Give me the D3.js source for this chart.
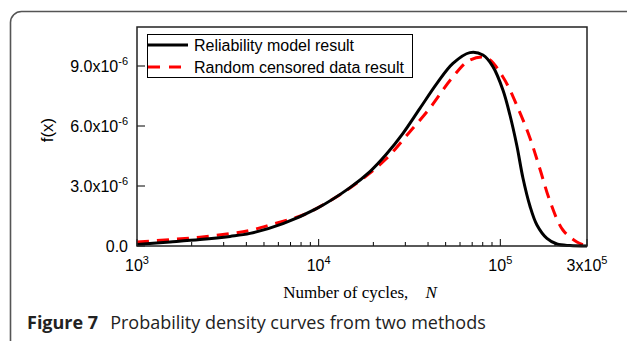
<!DOCTYPE html>
<html>
<head>
<meta charset="utf-8">
<script src="https://cdn.jsdelivr.net/npm/d3@7"></script>
<style>
  html, body { margin: 0; padding: 0; background: #fff; }
  svg { display: block; }
</style>
</head>
<body>
<div id="chart"></div>
<script>
// cycles N and density f(x) in units of 1e-6
const modelN = [1000, 1519, 2222, 3250, 4187, 6361, 9786, 14870, 19160, 23760, 29110, 36100, 44780, 54840, 68020, 80230, 91060, 103350, 112950, 123420, 133190, 145550, 159050, 180510, 204880, 241600, 300000];
const modelF = [0.08, 0.20, 0.32, 0.48, 0.63, 1.12, 1.88, 2.92, 3.72, 4.62, 5.63, 6.88, 8.13, 9.13, 9.67, 9.55, 8.97, 7.80, 6.55, 5.00, 3.40, 2.00, 1.05, 0.38, 0.10, 0.02, 0.0];

const censoredN = [1000, 1519, 2222, 3250, 4187, 5532, 8197, 11990, 17090, 23470, 31010, 40990, 54160, 68020, 84390, 103350, 125000, 145550, 165200, 187500, 221000, 264000, 300000];
const censoredF = [0.20, 0.32, 0.44, 0.62, 0.78, 1.08, 1.55, 2.35, 3.30, 4.35, 5.60, 6.90, 8.40, 9.30, 9.40, 8.45, 6.90, 5.40, 3.85, 2.25, 0.80, 0.20, 0.0];

const xTicks = [1e3, 1e4, 1e5, 3e5];
const xTickBase = ['10', '10', '10', '3x10'];
const xTickExp = ['3', '4', '5', '5'];
const yTicks = [0, 3, 6, 9];
const yTickBase = ['0.0', '3.0x10', '6.0x10', '9.0x10'];
const yTickExp = ['', '-6', '-6', '-6'];

const seriesNames = ['Reliability model result', 'Random censored data result'];

const W = 627, H = 341;
const margin = { top: 27, right: 40, bottom: 95, left: 137 };
const innerW = 587 - margin.left;
const innerH = 246 - margin.top;

const svg = d3.select('#chart').append('svg')
  .attr('width', W)
  .attr('height', H);

// outer figure frame
svg.append('rect')
  .attr('x', 10.5).attr('y', 11.5)
  .attr('width', 640).attr('height', 360)
  .attr('rx', 11).attr('ry', 11)
  .attr('fill', 'none')
  .attr('stroke', '#555')
  .attr('stroke-width', 1.6);

const g = svg.append('g')
  .attr('transform', `translate(${margin.left},${margin.top})`);

const x = d3.scaleLog().domain([1e3, 3e5]).range([0, innerW]);
const y = d3.scaleLinear().domain([0, 10.95]).range([innerH, 0]);

// minor x ticks (inside)
const minor = [];
for (let d = 1e3; d < 3e5; d *= 10) {
  for (let k = 2; k <= 9; k++) if (k * d < 3e5) minor.push(k * d);
}
g.selectAll('.minor').data(minor).enter().append('line')
  .attr('x1', d => x(d)).attr('x2', d => x(d))
  .attr('y1', innerH).attr('y2', innerH - 4)
  .attr('stroke', '#000').attr('stroke-width', 1);

g.selectAll('.xmajor').data(xTicks).enter().append('line')
  .attr('x1', d => x(d)).attr('x2', d => x(d))
  .attr('y1', innerH).attr('y2', innerH - 7)
  .attr('stroke', '#000').attr('stroke-width', 1);

g.selectAll('.ymajor').data(yTicks).enter().append('line')
  .attr('x1', 0).attr('x2', 8)
  .attr('y1', d => y(d)).attr('y2', d => y(d))
  .attr('stroke', '#000').attr('stroke-width', 1);

// tick labels
const xl = g.selectAll('.xlab').data(xTicks).enter().append('text')
  .attr('x', d => x(d))
  .attr('y', innerH + 25)
  .attr('text-anchor', 'middle')
  .attr('font-family', 'Liberation Sans, Arial, sans-serif')
  .attr('font-size', 16)
  .attr('fill', '#000');
xl.append('tspan').text((d, i) => xTickBase[i]);
xl.append('tspan').attr('dy', -7).attr('font-size', 11).text((d, i) => xTickExp[i]);

const yl = g.selectAll('.ylab').data(yTicks).enter().append('text')
  .attr('x', -9)
  .attr('y', d => y(d) + 6)
  .attr('text-anchor', 'end')
  .attr('font-family', 'Liberation Sans, Arial, sans-serif')
  .attr('font-size', 16)
  .attr('fill', '#000');
yl.append('tspan').text((d, i) => yTickBase[i]);
yl.append('tspan').attr('dy', -7).attr('font-size', 11).text((d, i) => yTickExp[i]);

// curves
const line = d3.line()
  .x(d => x(d[0]))
  .y(d => Math.min(y(d[1]), innerH))
  .curve(d3.curveCatmullRom.alpha(0.5));

g.append('path')
  .datum(censoredN.map((n, i) => [n, censoredF[i]]))
  .attr('fill', 'none')
  .attr('stroke', '#ff0000')
  .attr('stroke-width', 3)
  .attr('stroke-dasharray', '12,8')
  .attr('d', line);

g.append('path')
  .datum(modelN.map((n, i) => [n, modelF[i]]))
  .attr('fill', 'none')
  .attr('stroke', '#000')
  .attr('stroke-width', 3)
  .attr('d', line);

// plot box
g.append('rect')
  .attr('x', 0).attr('y', 0)
  .attr('width', innerW).attr('height', innerH)
  .attr('fill', 'none')
  .attr('stroke', '#222')
  .attr('stroke-width', 1.5);

// legend
const lg = svg.append('g');
lg.append('rect')
  .attr('x', 147.5).attr('y', 34.5)
  .attr('width', 265).attr('height', 43)
  .attr('fill', '#fff')
  .attr('stroke', '#000')
  .attr('stroke-width', 1);
lg.append('line')
  .attr('x1', 148).attr('x2', 188).attr('y1', 45).attr('y2', 45)
  .attr('stroke', '#000').attr('stroke-width', 3);
lg.append('line')
  .attr('x1', 148).attr('x2', 188).attr('y1', 67).attr('y2', 67)
  .attr('stroke', '#ff0000').attr('stroke-width', 3)
  .attr('stroke-dasharray', '12,9');
lg.selectAll('.lt').data(seriesNames).enter().append('text')
  .attr('x', 194)
  .attr('y', (d, i) => 51 + i * 22)
  .attr('font-family', 'Liberation Sans, Arial, sans-serif')
  .attr('font-size', 16)
  .attr('fill', '#000')
  .text(d => d);

// axis titles
const xt = svg.append('text')
  .attr('x', 360).attr('y', 298)
  .attr('text-anchor', 'middle')
  .attr('font-family', 'Liberation Serif, Times New Roman, serif')
  .attr('font-size', 17)
  .attr('fill', '#000')
  .attr('xml:space', 'preserve');
xt.append('tspan').text('Number of cycles,    ');
xt.append('tspan').attr('font-style', 'italic').text('N');

svg.append('text')
  .attr('transform', 'translate(53,130) rotate(-90)')
  .attr('text-anchor', 'middle')
  .attr('font-family', 'Liberation Sans, Arial, sans-serif')
  .attr('font-size', 17)
  .attr('fill', '#000')
  .text('f(x)');

// caption
const cap = svg.append('text')
  .attr('x', 27).attr('y', 329)
  .attr('font-family', 'Open Sans, Noto Sans, sans-serif')
  .attr('font-size', 18)
  .attr('fill', '#222');
cap.append('tspan').attr('font-weight', 'bold').text('Figure 7');
cap.append('tspan').attr('dx', 12).text('Probability density curves from two methods');
</script>
</body>
</html>
